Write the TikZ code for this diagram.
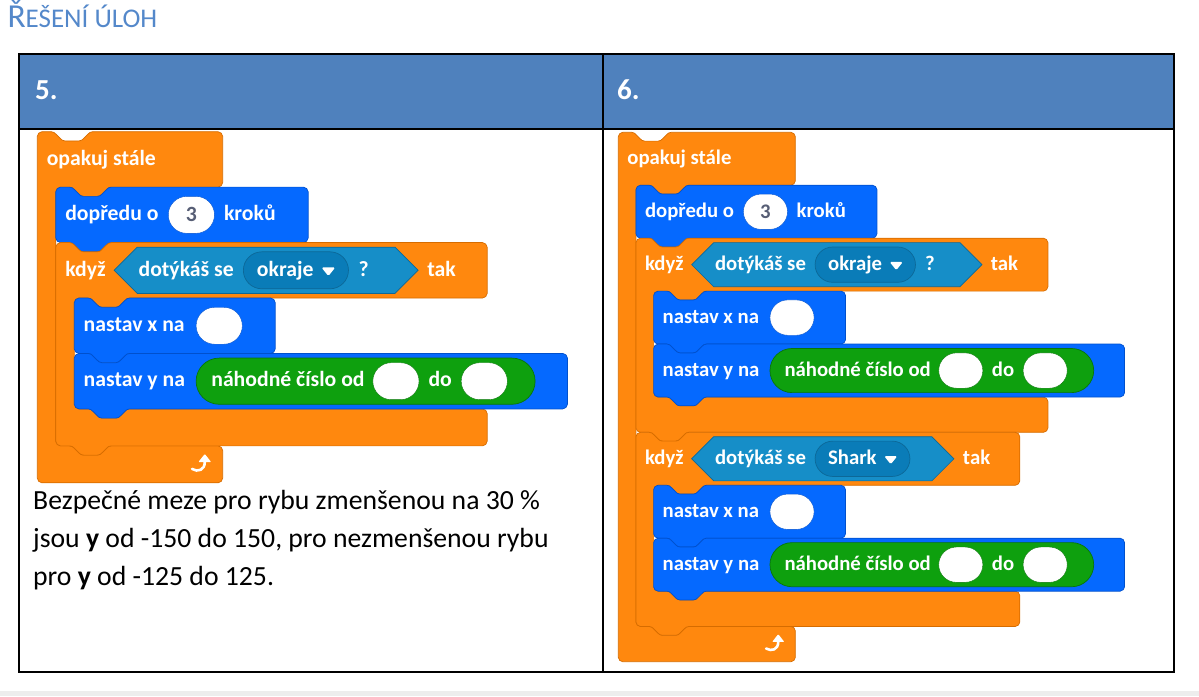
\documentclass[tikz,border=0pt]{standalone}
\usepackage{fontspec}
\setmainfont{Carlito}
\newfontfamily\blokpismo{Carlito}
\usetikzlibrary{arrows,shapes.misc}

\definecolor{oranzova}{RGB}{255,136,14}
\definecolor{oranzovaD}{RGB}{214,108,0}
\definecolor{modra}{RGB}{5,105,255}
\definecolor{modraD}{RGB}{0,80,205}
\definecolor{zelena}{RGB}{14,160,14}
\definecolor{zelenaD}{RGB}{8,118,8}
\definecolor{tyrkys}{RGB}{22,142,200}
\definecolor{tyrkysD}{RGB}{12,104,152}
\definecolor{tyrkysT}{RGB}{10,124,184}
\definecolor{sedaT}{RGB}{87,94,117}
\definecolor{zahlavi}{RGB}{79,129,189}
\definecolor{nadpisB}{RGB}{84,136,202}

\tikzset{
	zarez/.style 2 args = {insert path={.. controls ({#1+2},{#2}) and ({#1+3},{#2+1}) .. ({#1+4},{#2+2}) -- ({#1+8},{#2+6}) .. controls ({#1+9},{#2+7}) and ({#1+10},{#2+8}) .. ({#1+12},{#2+8}) -- ({#1+24},{#2+8}) .. controls ({#1+26},{#2+8}) and ({#1+27},{#2+7}) .. ({#1+28},{#2+6}) -- ({#1+32},{#2+2}) .. controls ({#1+33},{#2+1}) and ({#1+34},{#2}) .. ({#1+36},{#2})}},% zarez nahore
	vystupek/.style 2 args = {insert path={.. controls ({#1-2},{#2}) and ({#1-3},{#2+1}) .. ({#1-4},{#2+2}) -- ({#1-8},{#2+6}) .. controls ({#1-9},{#2+7}) and ({#1-10},{#2+8}) .. ({#1-12},{#2+8}) -- ({#1-24},{#2+8}) .. controls ({#1-26},{#2+8}) and ({#1-27},{#2+7}) .. ({#1-28},{#2+6}) -- ({#1-32},{#2+2}) .. controls ({#1-33},{#2+1}) and ({#1-34},{#2}) .. ({#1-36},{#2})}},% vystupek dole
	rizeni/.style = {fill=oranzova, draw=oranzovaD, line width=0.7pt},
	pohyb/.style = {fill=modra, draw=modraD, line width=0.7pt},
	vnimani/.style = {fill=tyrkys, draw=tyrkysD, line width=0.7pt},
	napis/.style = {anchor=base west, inner sep=0pt, text=white,
		font=\blokpismo\bfseries\fontsize{18.8}{20}\selectfont},
	vstup/.style = {rounded rectangle, fill=white, draw=#1, line width=0.4pt,
		minimum width=40pt, minimum height=32pt, inner sep=0pt, text=sedaT,
		font=\blokpismo\bfseries\fontsize{18.8}{20}\selectfont},
	vstup/.default = modraD,
	operace/.style = {rounded rectangle, fill=zelena, draw=zelenaD, line width=0.7pt,
		minimum height=40pt, inner sep=0pt},
	nabidka/.style = {rounded rectangle, fill=tyrkysT, draw=tyrkysD, line width=0.7pt,
		minimum height=32pt, inner sep=0pt},
	hlavicka/.style = {anchor=base west, inner sep=0pt, text=white,
		font=\bfseries\fontsize{29}{30}\selectfont},
	odstavec/.style = {anchor=base west, inner sep=0pt, font=\fontsize{27.7}{38}\selectfont}
}

% prikazovy blok: x, y, sirka, styl
\newcommand\blokprikaz[4]{%
	\draw[#4, shift={({#1},{#2})}] (0,4) .. controls (0,2) and (2,0) .. (4,0) -- (12,0) [zarez={12}{0}]
	-- ({#3-4},0) .. controls ({#3-2},0) and (#3,2) .. (#3,4) -- (#3,44)
	.. controls (#3,46) and ({#3-2},48) .. ({#3-4},48) -- (48,48) [vystupek={48}{48}]
	-- (4,48) .. controls (2,48) and (0,46) .. (0,44) -- cycle;}
% blok C: x, y, sirka, vnitrek, styl, spodni vystupek
\newcommand\blokC[6]{%
	\draw[#5, shift={({#1},{#2})}] (0,4) .. controls (0,2) and (2,0) .. (4,0) -- (12,0) [zarez={12}{0}]
	-- ({#3-4},0) .. controls ({#3-2},0) and (#3,2) .. (#3,4) -- (#3,44)
	.. controls (#3,46) and ({#3-2},48) .. ({#3-4},48) -- (64,48) [vystupek={64}{48}]
	-- (20,48) .. controls (18,48) and (16,50) .. (16,52) -- (16,{44+#4})
	.. controls (16,{46+#4}) and (18,{48+#4}) .. (20,{48+#4}) -- (28,{48+#4}) [zarez={28}{48+#4}]
	-- ({#3-4},{48+#4}) .. controls ({#3-2},{48+#4}) and (#3,{50+#4}) .. (#3,{52+#4}) -- (#3,{76+#4})
	.. controls (#3,{78+#4}) and ({#3-2},{80+#4}) .. ({#3-4},{80+#4}) -- (48,{80+#4}) [#6]
	-- (4,{80+#4}) .. controls (2,{80+#4}) and (0,{78+#4}) .. (0,{76+#4}) -- cycle;}
% podminka: levy hrot, pravy hrot, stred
\newcommand\hexa[3]{%
	\draw[vnimani] (#1,#3) -- ({#1+20},{#3-20}) -- ({#2-20},{#3-20}) -- (#2,#3)
	-- ({#2-20},{#3+20}) -- ({#1+20},{#3+20}) -- cycle;}
\newcommand\trojuh[2]{%
	\fill[white, rounded corners=1.5pt] ({#1-6},{#2-3.5}) -- ({#1+6},{#2-3.5}) -- (#1,{#2+4}) -- cycle;}
% ikona opakovani: stred
\newcommand\sipkaopak[2]{%
	\draw[white, line width=2.6pt, line cap=round] ({#1-8},{#2+4}) .. controls ({#1-3},{#2+7}) and ({#1+3},{#2+5}) .. ({#1+3},{#2-2});
	\fill[white, rounded corners=0.8pt] ({#1-2.5},{#2-2}) -- ({#1+8.5},{#2-2}) -- ({#1+3},{#2-9}) -- cycle;}
% nastav x a nastav y: predpona, y
\newcommand\nastavxy[2]{%
	\blokprikaz{32}{#2}{174}{pohyb}
	\node[napis] (#1nx) at (40,{#2+29}) {nastav x na};
	\node[vstup] (#1nxv) at (157.5,{#2+24}) {};
	\blokprikaz{32}{#2+48}{427}{pohyb}
	\node[napis] (#1ny) at (40,{#2+77}) {nastav y na};
	\node[operace, minimum width=293.5pt] (#1nah) at (284.25,{#2+72}) {};
	\node[napis] (#1nahtext) at (150.5,{#2+77}) {náhodné číslo od};
	\node[vstup=zelenaD] (#1od) at (310.5,{#2+72}) {};
	\node[napis] (#1do) at (338.5,{#2+77}) {do};
	\node[vstup=zelenaD] (#1dov) at (387,{#2+72}) {};}

\begin{document}
\begin{tikzpicture}[x=1pt, y=-1pt]
\useasboundingbox (0,0) rectangle (1199,696);
\fill[gray!14] (0,691) rectangle (1199,696);

\node[anchor=base west, inner sep=0pt, text=nadpisB] (nadpis) at (7.3,27.5)
	{\fontsize{33.5}{34}\selectfont Ř\fontsize{27}{34}\selectfont EŠENÍ ÚLOH};

% tabulka
\fill[zahlavi] (19,54) rectangle (1174,129);
\draw[line width=2.5pt] (19,54) rectangle (1174,672);
\draw[line width=2.5pt] (19,129) -- (1174,129);
\draw[line width=2.5pt] (603,54) -- (603,672);
\node[hlavicka] (uloha5) at (35,99) {5.};
\node[hlavicka] (uloha6) at (617,99) {6.};

% uloha 5
\begin{scope}[shift={(37.3,131.7)}, scale=1.155, transform shape]
	\blokC{0}{0}{160.5}{224}{rizeni}{sharp corners}
	\node[napis] (p5opakuj) at (8,29) {opakuj stále};
	\sipkaopak{142}{288}
	\blokprikaz{16}{48}{218.5}{pohyb}
	\node[napis] (p5dopredu) at (24,77) {dopředu o};
	\node[vstup] (p5tri) at (133.4,72) {3};
	\node[napis] (p5kroku) at (161.5,77) {kroků};
	\blokC{16}{96}{373.5}{96}{rizeni}{vystupek={48}{176}}
	\node[napis] (p5kdyz) at (24,125) {když};
	\hexa{66.5}{329.7}{120}
	\node[napis] (p5dotyk) at (87.5,125) {dotýkáš se};
	\node[nabidka, minimum width=91pt] (p5okraje) at (223.9,120) {};
	\node[napis] (p5okrajetext) at (190,125) {okraje};
	\trojuh{252}{121}
	\node[napis] (p5otaznik) at (278,125) {?};
	\node[napis] (p5tak) at (337.5,125) {tak};
	\nastavxy{p5}{144}
\end{scope}

% uloha 6
\begin{scope}[shift={(618.3,132.3)}, scale=1.103, transform shape]
	\blokC{0}{0}{160.5}{400}{rizeni}{sharp corners}
	\node[napis] (p6opakuj) at (8,29) {opakuj stále};
	\sipkaopak{142}{464}
	\blokprikaz{16}{48}{218.5}{pohyb}
	\node[napis] (p6dopredu) at (24,77) {dopředu o};
	\node[vstup] (p6tri) at (133.4,72) {3};
	\node[napis] (p6kroku) at (161.5,77) {kroků};
	\blokC{16}{96}{373.5}{96}{rizeni}{vystupek={48}{176}}
	\node[napis] (p6kdyz) at (24,125) {když};
	\hexa{66.5}{329.7}{120}
	\node[napis] (p6dotyk) at (87.5,125) {dotýkáš se};
	\node[nabidka, minimum width=91pt] (p6okraje) at (223.9,120) {};
	\node[napis] (p6okrajetext) at (190,125) {okraje};
	\trojuh{252}{121}
	\node[napis] (p6otaznik) at (278,125) {?};
	\node[napis] (p6tak) at (337.5,125) {tak};
	\nastavxy{p6}{144}
	\blokC{16}{272}{348}{96}{rizeni}{vystupek={48}{176}}
	\node[napis] (p6kdyz2) at (24,301) {když};
	\hexa{66.5}{304.3}{296}
	\node[napis] (p6dotyk2) at (87.5,301) {dotýkáš se};
	\node[nabidka, minimum width=86pt] (p6shark) at (221.4,296) {};
	\node[napis] (p6sharktext) at (190,301) {Shark};
	\trojuh{247}{297}
	\node[napis] (p6tak2) at (312.3,301) {tak};
	\nastavxy{p6b}{320}
\end{scope}

\node[odstavec] (popis1) at (33,509) {Bezpečné meze pro rybu zmenšenou na 30 \%};
\node[odstavec] (popis2) at (33,547) {jsou \textbf{y} od -150 do 150, pro nezmenšenou rybu};
\node[odstavec] (popis3) at (33,585) {pro \textbf{y} od -125 do 125.};
\end{tikzpicture}
\end{document}
